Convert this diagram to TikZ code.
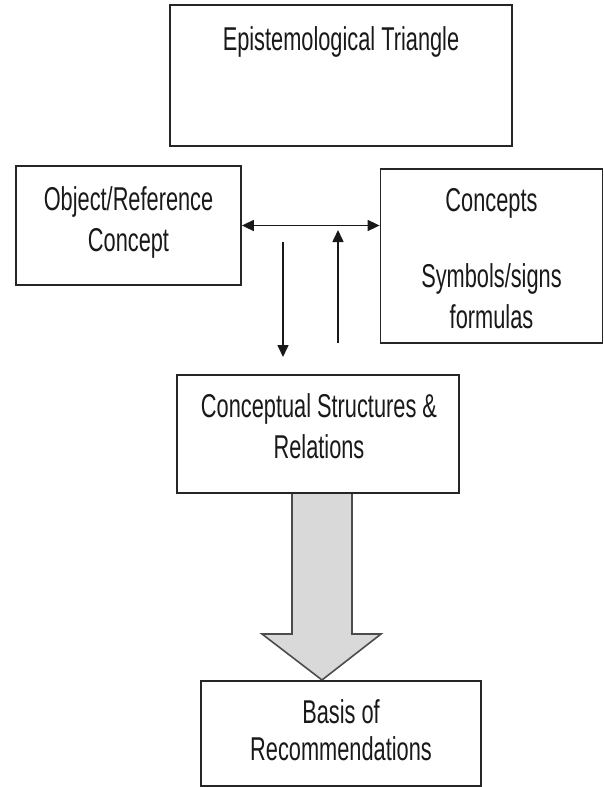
\documentclass[tikz,border=0pt]{standalone}
\usepackage{fontspec}
\setmainfont{Liberation Sans}[FakeStretch=0.66]
\usetikzlibrary{arrows.meta}
\begin{document}
\begin{tikzpicture}[x=1pt,y=-1pt,
  box/.style={draw=black!85,line width=1.8pt,fill=white,rectangle,inner sep=0pt},
  txt/.style={anchor=base,inner sep=0pt,font=\fontsize{33}{40}\selectfont,text=black!90},
  link/.style={draw=black!90,line width=1.6pt,-{Triangle[length=12pt,width=11pt]}},
  both/.style={draw=black!90,line width=1.6pt,{Triangle[length=12pt,width=11pt]}-{Triangle[length=12pt,width=11pt]}},
  bigarrow/.style={draw=black!70,line width=1.6pt,fill=black!15,line join=miter}]
\useasboundingbox (0,0) rectangle (604,787);

% block arrow drawn first so the box border sits on top of it
\coordinate (tip) at (322,680);
\draw[bigarrow] (292,493) -- (292,634) -- (262,634) -- (tip) -- (381,634) -- (352,634) -- (352,493) -- cycle;

% boxes
\node[box,minimum width=342pt,minimum height=141pt] (top) at (341,75.5) {};
\node[box,minimum width=225pt,minimum height=119pt] (obj) at (128.5,225.5) {};
\node[box,minimum width=222pt,minimum height=174pt] (con) at (491.5,256) {};
\node[box,minimum width=282pt,minimum height=118pt] (struct) at (318,434) {};
\node[box,minimum width=280pt,minimum height=105pt] (basis) at (341,733.5) {};

% labels
\node[txt] (topA) at (341,50) {Epistemological Triangle};
\node[txt] (objA) at (128.5,210) {Object/Reference};
\node[txt] (objB) at (128.5,251) {Concept};
\node[txt] (conA) at (491.5,211) {Concepts};
\node[txt] (conB) at (491.5,287) {Symbols/signs};
\node[txt] (conC) at (491.5,328) {formulas};
\node[txt] (strA) at (319,417) {Conceptual Structures \&};
\node[txt] (strB) at (319,458) {Relations};
\node[txt] (basA) at (341,723) {Basis of};
\node[txt] (basB) at (341,760) {Recommendations};

% connectors
\draw[both] (obj.east) -- (con.west |- obj.east);
\coordinate (downS) at (283,242);
\coordinate (downE) at (283,357);
\coordinate (upS) at (338,343);
\coordinate (upE) at (338,230);
\draw[link] (downS) -- (downE);
\draw[link] (upS) -- (upE);
\end{tikzpicture}
\end{document}
